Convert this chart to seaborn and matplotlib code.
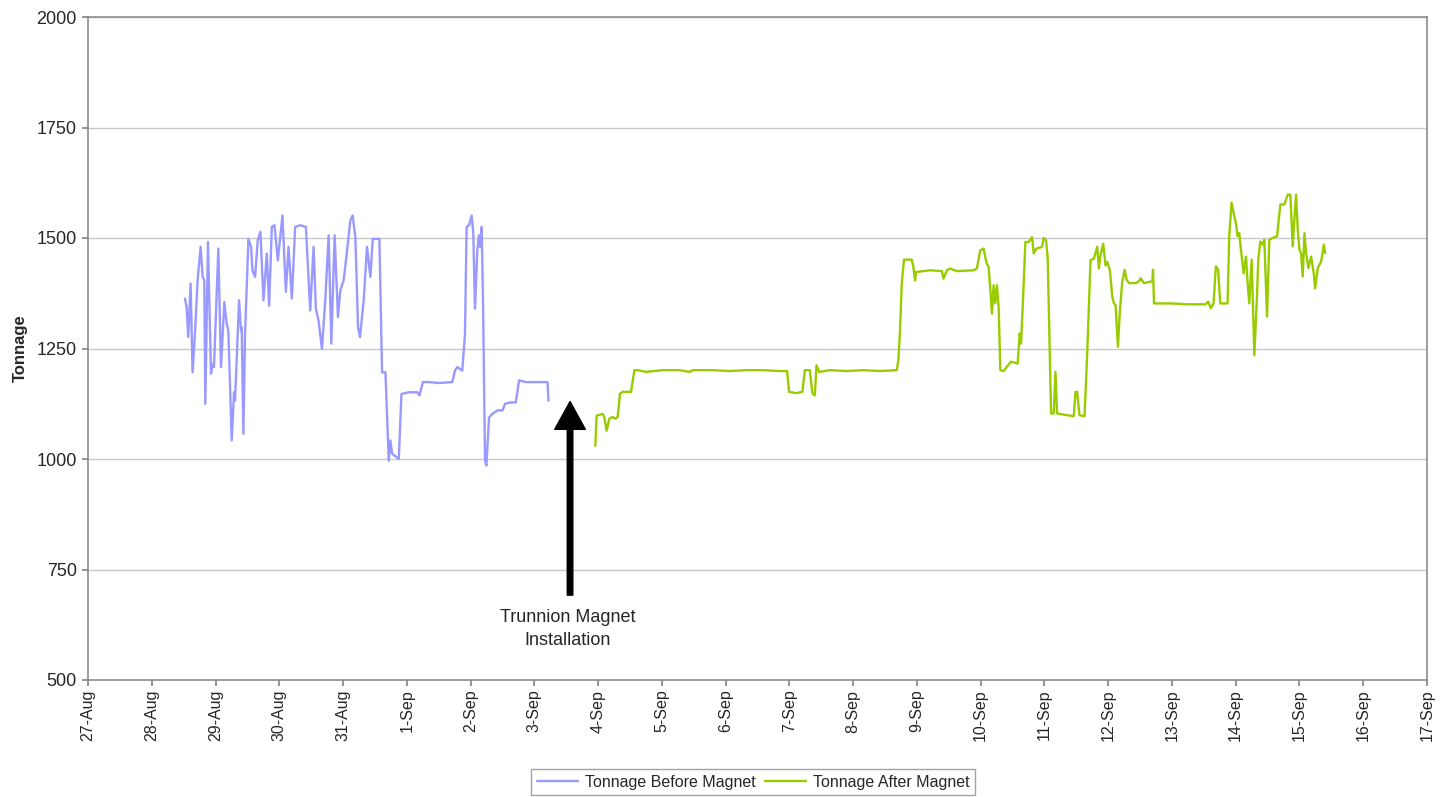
import numpy as np
import pandas as pd
import matplotlib
matplotlib.use("Agg")
import matplotlib.pyplot as plt
import matplotlib.dates as mdates
import seaborn as sns

# ---- data (days since 27-Aug 00:00, tonnage) ----
start = pd.Timestamp("2009-08-27")

before_days = [1.520, 1.546, 1.572, 1.609, 1.640, 1.677, 1.719, 1.766, 1.798, 1.824, 1.840, 1.882,
               1.929, 1.955, 1.976, 2.044, 2.086, 2.138, 2.175, 2.201, 2.254, 2.290, 2.306, 2.369,
               2.400, 2.411, 2.437, 2.463, 2.516, 2.558, 2.579, 2.621, 2.662, 2.704, 2.752, 2.804,
               2.841, 2.883, 2.925, 2.977, 3.050, 3.103, 3.145, 3.197, 3.249, 3.328, 3.417, 3.485,
               3.538, 3.574, 3.616, 3.669, 3.721, 3.774, 3.816, 3.868, 3.920, 3.957, 4.009, 4.046,
               4.114, 4.151, 4.193, 4.235, 4.266, 4.324, 4.376, 4.429, 4.466, 4.570, 4.612, 4.665,
               4.717, 4.743, 4.770, 4.874, 4.916, 5.031, 5.163, 5.199, 5.252, 5.346,
               5.503, 5.713, 5.755, 5.792, 5.870, 5.912, 5.938, 5.975, 6.017, 6.043, 6.069, 6.106,
               6.132, 6.148, 6.174, 6.195, 6.227, 6.248, 6.290, 6.342, 6.421, 6.499, 6.541, 6.630,
               6.709, 6.761, 6.866, 6.971, 7.076, 7.207, 7.222]
before_tons = [1363, 1344, 1276, 1397, 1196, 1283, 1404, 1480, 1412, 1404, 1125, 1491,
               1193, 1215, 1208, 1476, 1208, 1355, 1306, 1291, 1042, 1151, 1132, 1359,
               1291, 1298, 1057, 1283, 1498, 1480, 1427, 1412, 1495, 1514, 1359, 1465,
               1347, 1525, 1529, 1449, 1551, 1378, 1480, 1363, 1525, 1529, 1525, 1336,
               1480, 1340, 1313, 1249, 1359, 1506, 1261, 1506, 1321, 1381, 1404, 1449,
               1540, 1551, 1502, 1298, 1276, 1359, 1480, 1412, 1498, 1498, 1196, 1196,
               996, 1042, 1012, 1000, 1147, 1151, 1151, 1144, 1174, 1174,
               1172, 1174, 1200, 1208, 1200, 1283, 1525, 1529, 1551, 1510, 1340, 1472,
               1506, 1480, 1525, 1359, 996, 985, 1094, 1102, 1110, 1110, 1125, 1128,
               1128, 1178, 1174, 1174, 1174, 1174, 1132]

after_days = [7.956, 7.977, 8.071, 8.097, 8.134, 8.176, 8.228, 8.270, 8.307, 8.343, 8.385, 8.516,
              8.569, 8.621, 8.752, 9.014, 9.277, 9.434, 9.486, 9.801, 10.063, 10.325, 10.587,
              10.849, 10.964, 10.995, 11.111, 11.205, 11.242, 11.320, 11.362, 11.399, 11.425,
              11.467, 11.635, 11.897, 12.159, 12.421, 12.683, 12.709,
              12.736, 12.762, 12.798, 12.919, 12.945, 12.971, 12.987, 13.102, 13.207, 13.391,
              13.417, 13.469, 13.522, 13.626, 13.889, 13.941, 13.993, 14.046, 14.088, 14.124,
              14.151, 14.177, 14.203, 14.229, 14.255, 14.282, 14.308, 14.360, 14.413, 14.475,
              14.580, 14.612, 14.633, 14.664, 14.701, 14.753, 14.806, 14.832, 14.874, 14.963,
              14.989, 15.026, 15.052, 15.083, 15.104, 15.146, 15.173, 15.199, 15.356, 15.461,
              15.487, 15.513, 15.550, 15.629, 15.671, 15.723, 15.775, 15.828, 15.854, 15.880,
              15.922, 15.959, 15.985, 16.027, 16.064, 16.090, 16.116, 16.153, 16.184, 16.221,
              16.258, 16.289, 16.326, 16.431, 16.483, 16.509, 16.562, 16.693, 16.703, 16.719,
              16.981, 17.243, 17.531, 17.568, 17.610, 17.652, 17.689, 17.725, 17.757, 17.872,
              17.898, 17.935, 17.966, 18.003, 18.029, 18.056, 18.082, 18.124, 18.161, 18.187,
              18.213, 18.250, 18.292, 18.333, 18.354, 18.386, 18.423, 18.449, 18.491, 18.527,
              18.580, 18.648, 18.700, 18.763, 18.816, 18.857, 18.894, 18.920, 18.947, 18.973,
              18.999, 19.025, 19.051, 19.078, 19.104, 19.140, 19.182, 19.224, 19.245, 19.287,
              19.340, 19.382, 19.403]
after_tons = [1030, 1098, 1102, 1095, 1064, 1091, 1095, 1091, 1095, 1148, 1152, 1152,
              1201, 1201, 1197, 1201, 1201, 1197, 1201, 1201, 1199, 1201, 1201,
              1199, 1199, 1152, 1149, 1152, 1201, 1201, 1148, 1144, 1212,
              1197, 1201, 1199, 1201, 1199, 1201, 1223,
              1292, 1397, 1451, 1451, 1434, 1404, 1423, 1425, 1427, 1425,
              1408, 1427, 1431, 1425, 1427, 1431, 1472, 1476, 1446, 1434,
              1386, 1329, 1393, 1352, 1393, 1344, 1201, 1199, 1209, 1220,
              1216, 1284, 1261, 1359, 1491, 1491, 1502, 1465, 1476, 1480,
              1500, 1495, 1453, 1239, 1103, 1103, 1197, 1103, 1099, 1097,
              1152, 1152, 1099, 1097, 1239, 1450, 1453, 1480, 1431, 1461,
              1487, 1438, 1446, 1427, 1367, 1352, 1348, 1254, 1337, 1401,
              1428, 1405, 1398, 1398, 1402, 1409, 1398, 1402, 1428, 1352,
              1352, 1350, 1350, 1356, 1341, 1352, 1436, 1428, 1352, 1352,
              1504, 1580, 1557, 1534, 1504, 1511, 1473, 1420, 1458, 1398,
              1352, 1451, 1235, 1367, 1451, 1492, 1485, 1496, 1322, 1496,
              1500, 1504, 1576, 1576, 1598, 1598, 1481, 1542, 1598, 1519,
              1473, 1466, 1413, 1511, 1466, 1432, 1458, 1420, 1386, 1432,
              1447, 1485, 1466]

series_names = ["Tonnage Before Magnet", "Tonnage After Magnet"]
series_colors = ["#9999ff", "#99cc00"]
y_ticks = [500, 750, 1000, 1250, 1500, 1750, 2000]

df = pd.concat([
    pd.DataFrame({"time": start + pd.to_timedelta(before_days, unit="D"),
                  "tonnage": before_tons, "series": series_names[0]}),
    pd.DataFrame({"time": start + pd.to_timedelta(after_days, unit="D"),
                  "tonnage": after_tons, "series": series_names[1]}),
], ignore_index=True)

# ---- plot ----
sns.set_theme(style="white")
plt.rcParams["font.family"] = ["Liberation Sans", "DejaVu Sans"]

fig = plt.figure(figsize=(14.42, 7.97), dpi=100)
ax = fig.add_axes([88 / 1442, 1 - 680 / 797, (1427 - 88) / 1442, (680 - 17) / 797])

sns.lineplot(data=df, x="time", y="tonnage", hue="series", hue_order=series_names,
             palette=series_colors, estimator=None, sort=False, linewidth=1.7, ax=ax,
             legend=False)

ax.set_xlim(start, start + pd.Timedelta(days=21))
ax.set_ylim(500, 2000)
ax.set_yticks(y_ticks)
ax.xaxis.set_major_locator(mdates.DayLocator())
ax.xaxis.set_major_formatter(mdates.DateFormatter("%-d-%b"))
plt.setp(ax.get_xticklabels(), rotation=90)
ax.tick_params(axis="x", labelsize=11.5, length=4, color="#888888", pad=3, direction="out")
ax.tick_params(axis="y", labelsize=13, length=4, color="#888888", pad=4, direction="out")
ax.xaxis.set_ticks_position("bottom")
ax.yaxis.set_ticks_position("left")
ax.grid(axis="y", color="#c8c8c8", linewidth=1)
ax.set_axisbelow(True)
for s in ax.spines.values():
    s.set_color("#8c8c8c")
    s.set_linewidth(1.2)
ax.set_xlabel("")
ax.set_ylabel("Tonnage", fontsize=12, fontweight="bold")
ax.yaxis.set_label_coords(-0.045, 0.5)

# annotation arrow
arrow_x = start + pd.Timedelta(days=7.56)
ax.annotate("", xy=(arrow_x, 1130), xytext=(arrow_x, 692),
            arrowprops=dict(facecolor="black", edgecolor="black", width=4,
                            headwidth=22, headlength=20))
ax.text(start + pd.Timedelta(days=7.52), 615, "Trunnion Magnet\nInstallation",
        ha="center", va="center", fontsize=13, linespacing=1.45)

# legend
handles = [plt.Line2D([], [], color=c, linewidth=1.7) for c in series_colors]
leg = fig.legend(handles, series_names, loc="center", bbox_to_anchor=(753 / 1442, 1 - 782 / 797),
                 ncol=2, fontsize=11.5, frameon=True, fancybox=False, handlelength=2.6,
                 columnspacing=0.6, handletextpad=0.4, borderpad=0.35)
leg.get_frame().set_edgecolor("#8c8c8c")
leg.get_frame().set_linewidth(1)

fig.savefig("out.png", dpi=100)
